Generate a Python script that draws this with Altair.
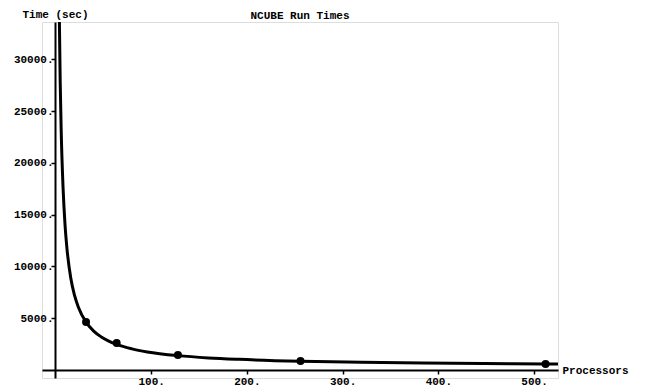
import altair as alt
import pandas as pd

# measured run times (points)
procs = [32, 64, 128, 256, 512]
times = [4630, 2600, 1450, 870, 580]

# fitted curve
curve_p = [3, 4, 5, 6, 8, 10, 12, 16, 20, 24, 32, 40, 48, 64, 80, 96, 128, 160, 192, 256, 320, 384, 448, 512, 525]
curve_t = [46300, 34800, 27900, 23300, 17600, 14100, 11800, 8900, 7200, 6060, 4620, 3760, 3190, 2470,
           2040, 1750, 1390, 1170, 1030, 850, 740, 670, 620, 580, 570]

x_ticks = [100, 200, 300, 400, 500]
y_ticks = [5000, 10000, 15000, 20000, 25000, 30000]

pts = pd.DataFrame({"p": procs, "t": times})
cur = pd.DataFrame({"p": curve_p, "t": curve_t})

FONT = "Liberation Mono"

xs = alt.Scale(domain=[-14, 525], nice=False, zero=False)
ys = alt.Scale(domain=[-770, 33600], nice=False, zero=False)

xaxis = alt.Axis(values=x_ticks, labelExpr="format(datum.value,'d') + '.'", grid=False,
                 offset=-8, domainWidth=2, domainColor="black", tickColor="black", tickWidth=1.5,
                 tickSize=4, labelPadding=1, labelFont=FONT, labelFontWeight="bold", labelFontSize=11,
                 labelColor="black", title="Processors", titleFont=FONT, titleFontWeight="bold",
                 titleFontSize=11, titleColor="black", titleX=520, titleY=0, titleAlign="left",
                 titleBaseline="middle", titleAngle=0)
yaxis = alt.Axis(values=y_ticks, labelExpr="format(datum.value,'d') + '.'", grid=False,
                 offset=-13, domainWidth=2, domainColor="black", tickColor="black", tickWidth=1.5,
                 tickSize=4, labelPadding=-2, labelFont=FONT, labelFontWeight="bold", labelFontSize=11,
                 labelColor="black", title="Time (sec)", titleFont=FONT, titleFontWeight="bold",
                 titleFontSize=11, titleColor="black", titleX=0, titleY=-8, titleAlign="center",
                 titleBaseline="middle", titleAngle=0)

line = alt.Chart(cur).mark_line(color="black", strokeWidth=3, clip=True, interpolate="monotone").encode(
    x=alt.X("p:Q", scale=xs, axis=xaxis),
    y=alt.Y("t:Q", scale=ys, axis=yaxis),
)
dots = alt.Chart(pts).mark_circle(color="black", size=64, opacity=1).encode(
    x=alt.X("p:Q", scale=xs),
    y=alt.Y("t:Q", scale=ys),
)

chart = alt.layer(line, dots).properties(
    width=516, height=356,
    autosize=alt.AutoSizeParams(type="none"),
    padding={"left": 34, "top": 14, "right": 71, "bottom": 14},
    title=alt.Title("NCUBE Run Times", font=FONT, fontWeight="bold", fontSize=11, color="black",
                    anchor="middle", offset=-13),
).configure_view(stroke=None).configure(background="white")

chart.save("out.html", embed_options={"renderer": "svg", "actions": False})
